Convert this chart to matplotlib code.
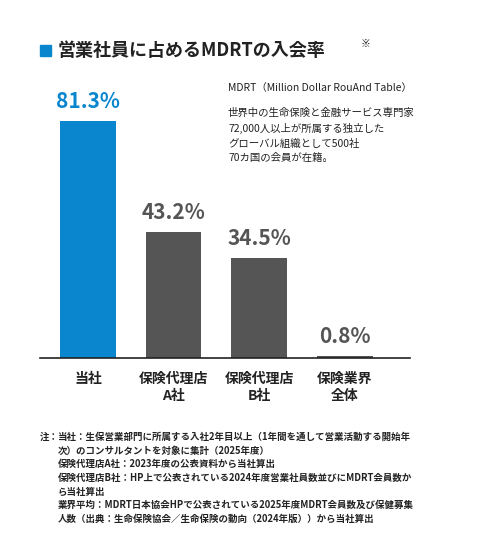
import matplotlib
matplotlib.use("Agg")
import matplotlib.pyplot as plt
from matplotlib.patches import Rectangle

plt.rcParams['font.family'] = ['Noto Sans CJK JP', 'DejaVu Sans']

categories = ["当社", "保険代理店\nA社", "保険代理店\nB社", "保険業界\n全体"]
values = [81.3, 43.2, 34.5, 0.8]
colors = ["#0a86cf", "#555555", "#555555", "#555555"]

fig = plt.figure(figsize=(4.8, 5.55), dpi=100)
ax = fig.add_axes([40/480, 1-358/555, 370/480, 300/555])
x = list(range(len(values)))
ax.bar(x, values, width=0.65, color=colors)
ax.set_xlim(-0.56, 3.76)
ax.set_ylim(0, 103)
for s in ["top", "right", "left"]:
    ax.spines[s].set_visible(False)
ax.spines["bottom"].set_color("#222222")
ax.spines["bottom"].set_linewidth(1.2)
ax.set_yticks([])
ax.set_xticks(x)
ax.set_xticklabels(categories, fontsize=10, fontweight="bold", color="#222222", linespacing=1.3)
ax.tick_params(axis="x", length=0, pad=10)
for xi, v, c in zip(x, values, colors):
    ax.text(xi, v + 3, f"{v}%", ha="center", va="bottom", fontsize=15, fontweight="bold", color=c)

# title
fig.patches.append(Rectangle((40/480, 1-56/555), 11/480, 11/555, transform=fig.transFigure, color="#0a86cf"))
fig.text(58/480, 1-50/555, "営業社員に占めるMDRTの入会率", fontsize=13, fontweight="bold", color="#222222", va="center")
fig.text(361/480, 1-44/555, "※", fontsize=7, fontweight="bold", color="#222222", va="center")

# annotation
fig.text(228/480, 1-88/555, "MDRT（Million Dollar RouAnd Table）", fontsize=7.5, color="#222222", va="center")
fig.text(228/480, 1-108/555, "世界中の生命保険と金融サービス専門家\n72,000人以上が所属する独立した\nグローバル組織として500社\n70カ国の会員が在籍。",
         fontsize=7.5, color="#222222", va="top", linespacing=1.55)

# footnote
fig.text(40/480, 1-432/555, "注：", fontsize=6.8, fontweight="bold", color="#222222", va="top")
note = ("当社：生保営業部門に所属する入社2年目以上（1年間を通して営業活動する開始年\n"
        "次）のコンサルタントを対象に集計（2025年度）\n"
        "保険代理店A社：2023年度の公表資料から当社算出\n"
        "保険代理店B社：HP上で公表されている2024年度営業社員数並びにMDRT会員数か\n"
        "ら当社算出\n"
        "業界平均：MDRT日本協会HPで公表されている2025年度MDRT会員数及び保健募集\n"
        "人数（出典：生命保険協会／生命保険の動向（2024年版））から当社算出")
fig.text(58/480, 1-432/555, note, fontsize=6.8, fontweight="bold", color="#222222", va="top", linespacing=1.45)

fig.savefig("out.png", dpi=100, facecolor="white")
